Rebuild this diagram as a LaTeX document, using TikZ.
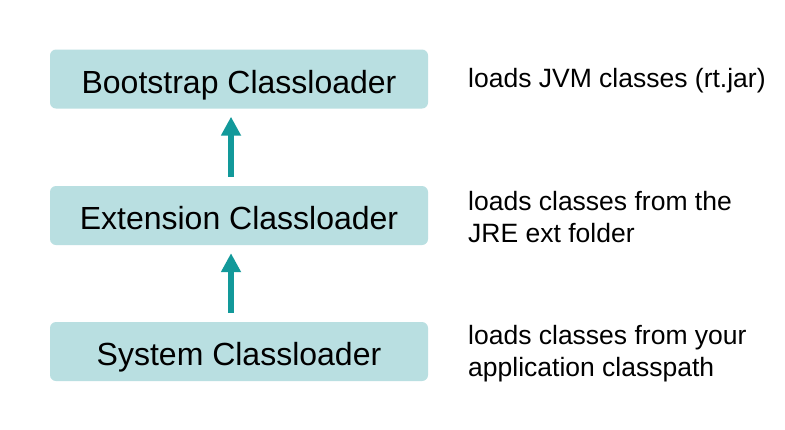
\documentclass[tikz,border=0pt]{standalone}
\usepackage{fontspec}
\setmainfont{Liberation Sans}
\usetikzlibrary{arrows.meta}
\definecolor{boxfill}{HTML}{B9DFE1}
\definecolor{arrowteal}{HTML}{12999A}
\tikzset{
  loaderbox/.style={fill=boxfill, draw=none, rounded corners=6pt, minimum width=378pt, minimum height=59pt, inner sep=0pt, text height=28pt, text depth=0pt, font=\fontsize{32}{36}\selectfont},
  desc/.style={anchor=west, inner sep=0pt, align=left, font=\fontsize{26.5}{32}\selectfont},
  uparrow/.style={draw=arrowteal, line width=6pt, -{Triangle[width=19pt,length=19pt]}, arrowteal}
}
\begin{document}
\begin{tikzpicture}[x=1pt,y=-1pt]
\fill[white] (0,0) rectangle (785,429);
\useasboundingbox (0,0) rectangle (785,429);
\node[loaderbox] (boot) at (239,79) {Bootstrap Classloader};
\node[loaderbox] (ext) at (239,215.5) {Extension Classloader};
\node[loaderbox] (sys) at (239,351.5) {System Classloader};
\node[desc] (bootd) at (468,81) {loads JVM classes (rt.jar)};
\node[desc] (extd) at (468,217.5) {loads classes from the\\JRE ext folder};
\node[desc] (sysd) at (468,353.5) {loads classes from your\\application classpath};
\coordinate (ax) at (231,0);
\draw[uparrow, shorten <=9pt, shorten >=8pt] (ax |- ext.north) -- (ax |- boot.south);
\draw[uparrow, shorten <=9pt, shorten >=8pt] (ax |- sys.north) -- (ax |- ext.south);
\end{tikzpicture}
\end{document}
